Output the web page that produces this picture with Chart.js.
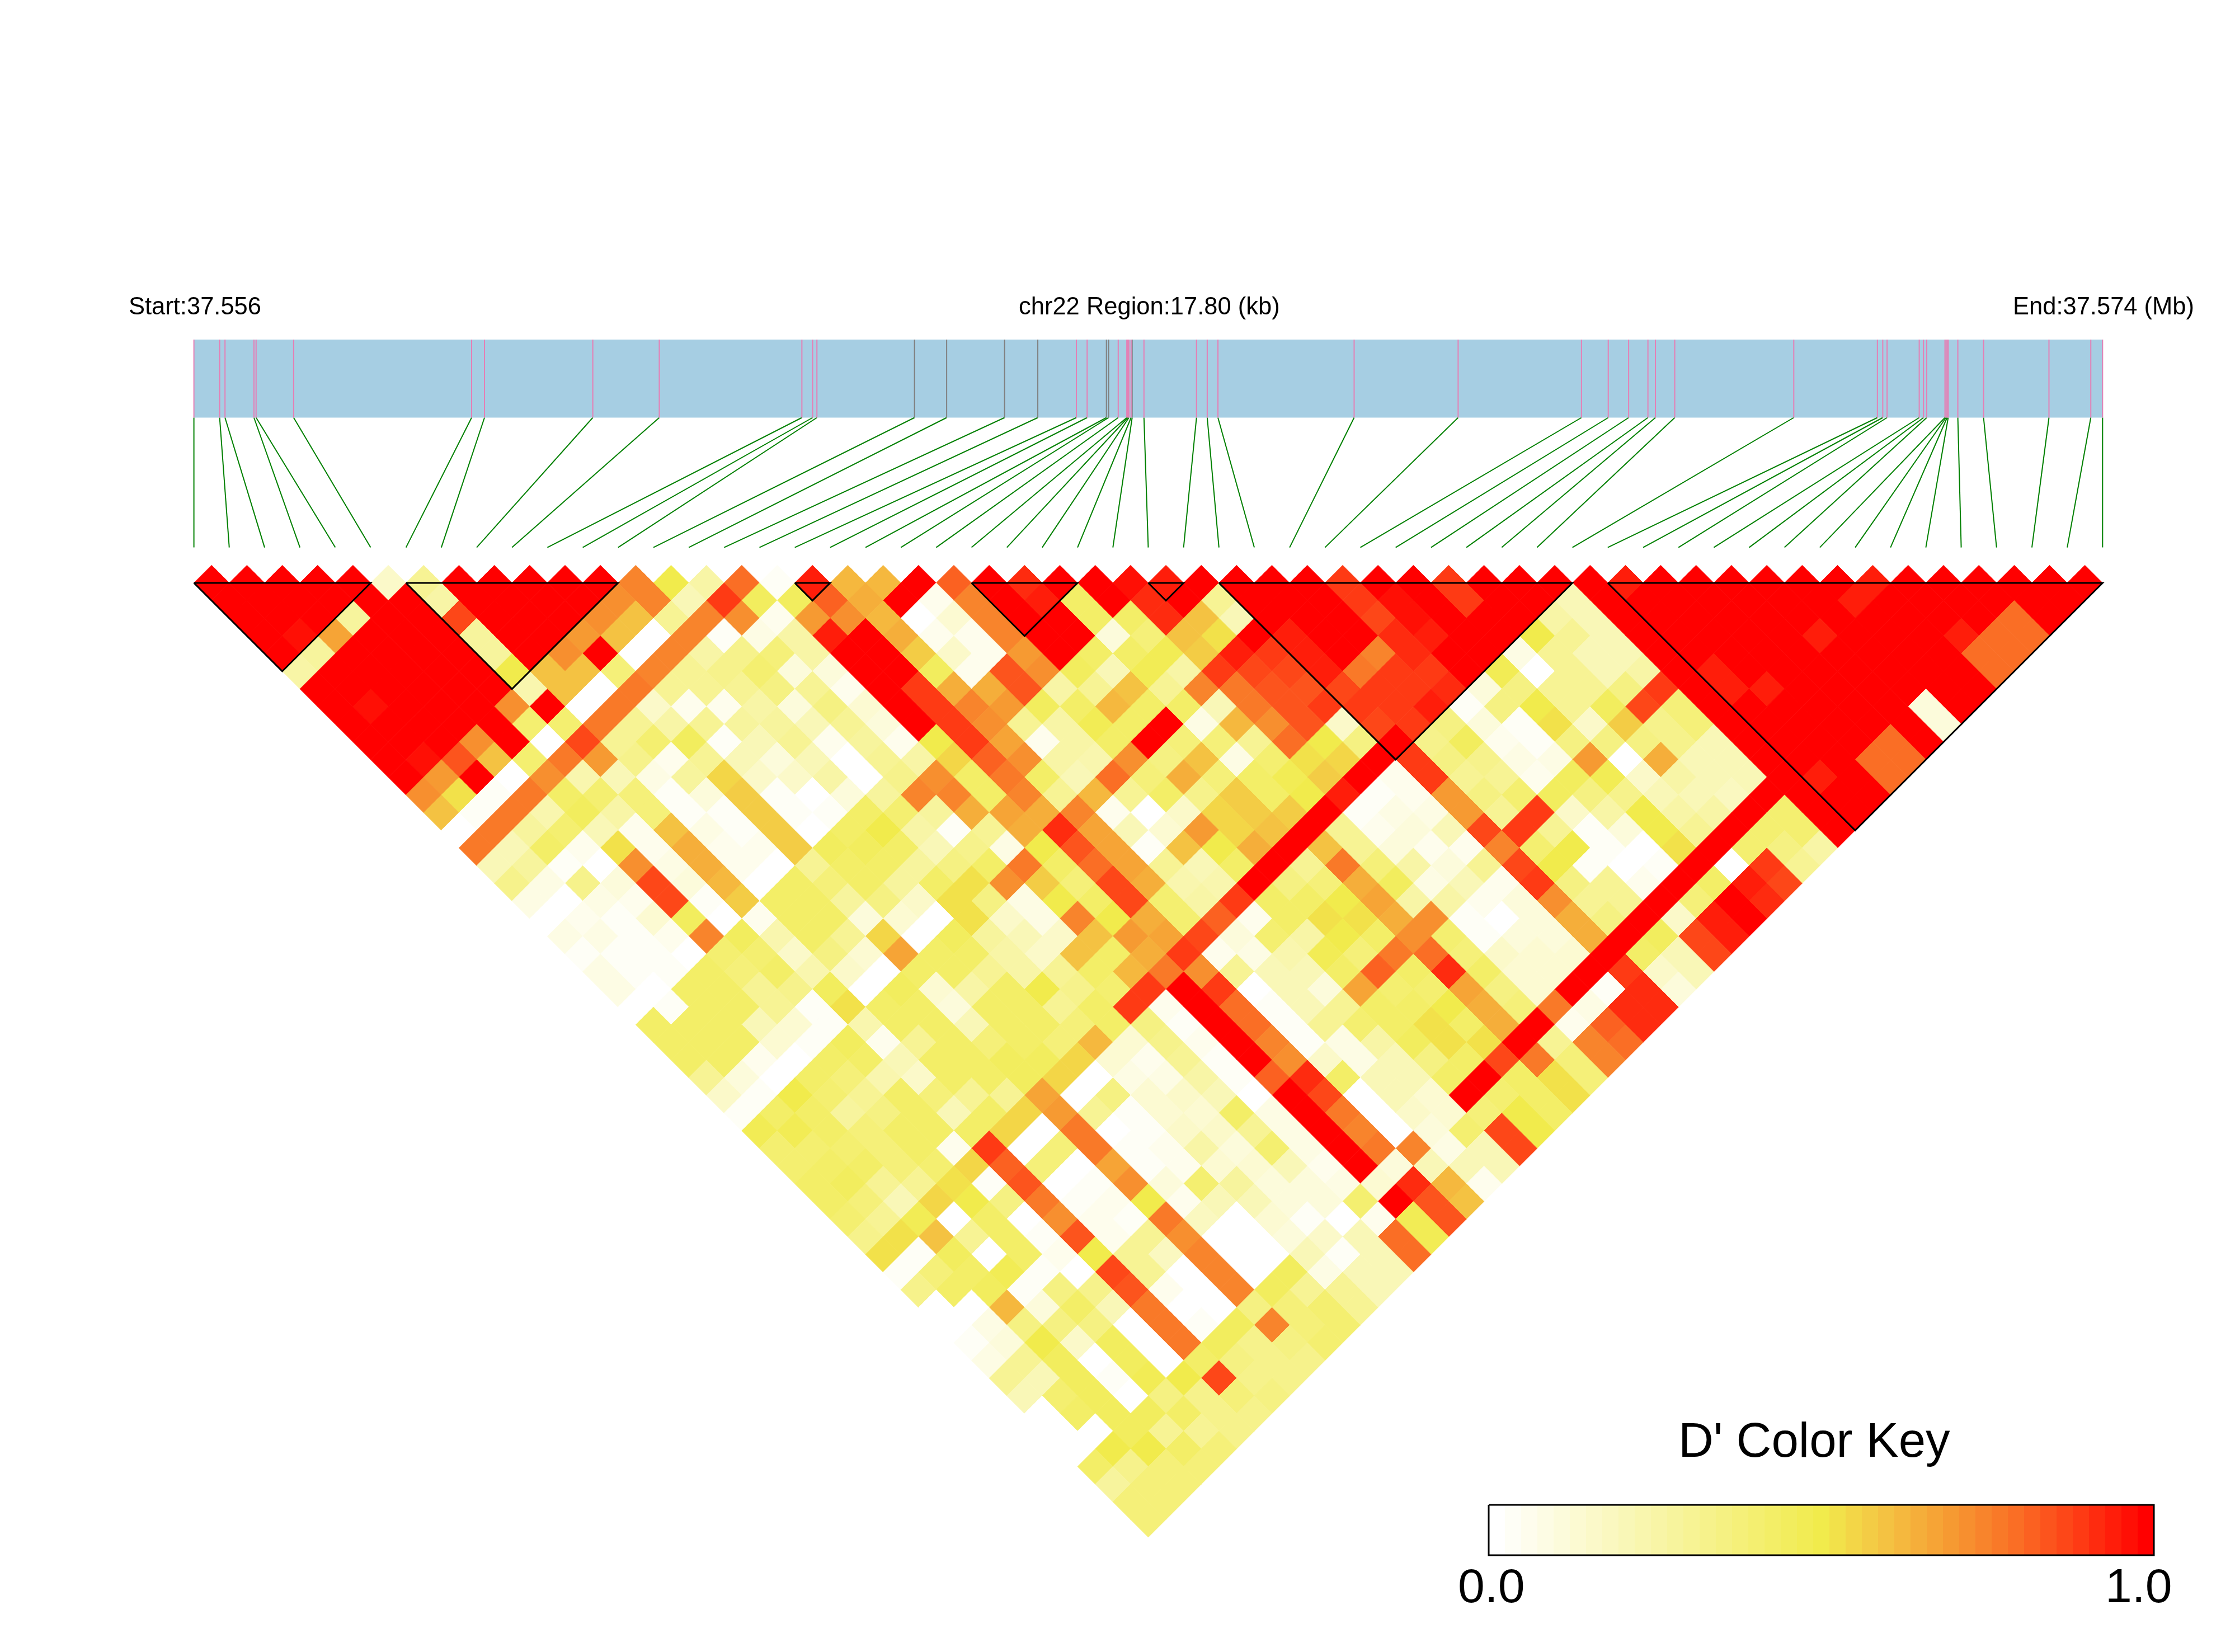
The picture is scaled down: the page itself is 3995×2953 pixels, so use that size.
<!DOCTYPE html>
<html>
<head>
<meta charset="utf-8">
<title>LD heatmap chr22</title>
<script src="https://cdn.jsdelivr.net/npm/chart.js@4"></script>
<style>
  html, body { margin: 0; padding: 0; background: #fff; }
  #wrap { position: relative; width: 3995px; height: 2953px; overflow: hidden; }
  canvas { position: absolute; left: 0; top: 0; }
  .lbl { position: absolute; font-family: "Liberation Sans", Arial, sans-serif; color: #000; white-space: nowrap; line-height: 1; }
</style>
</head>
<body>
<div id="wrap">
  <canvas id="ld" width="3995" height="2953"></canvas>
  <div class="lbl" style="left:230px;top:526px;font-size:43.5px">Start:37.556</div>
  <div class="lbl" style="left:1821px;top:526px;font-size:43.5px">chr22 Region:17.80 (kb)</div>
  <div class="lbl" style="left:3598px;top:526px;font-size:43.5px">End:37.574 (Mb)</div>
  <div class="lbl" style="left:3000px;top:2530px;font-size:87px">D' Color Key</div>
  <div class="lbl" style="left:2606px;top:2791px;font-size:86px">0.0</div>
  <div class="lbl" style="left:3763px;top:2791px;font-size:86px">1.0</div>
</div>
<script>
// SNP positions along the region, kb from the start
const snpKb = [0,.24,.29,.56,.58,.93,2.59,2.71,3.72,4.34,5.67,5.77,5.81,6.72,7.02,7.56,7.87,8.23,8.33,8.51,8.53,8.62,8.70,8.71,8.72,8.74,8.75,8.86,9.35,9.45,9.55,10.82,11.79,12.94,13.19,13.38,13.56,13.63,13.81,14.92,15.70,15.75,15.79,16.09,16.13,16.16,16.33,16.34,16.35,16.36,16.45,16.69,17.30,17.69,17.80];
const regionKb = 17.8;
const greySnps = [13,14,15,16,19,20,26];

// haplotype blocks, first and last SNP
const blockStart = [0,6,17,22,27,29,40];
const blockEnd = [5,12,18,25,28,39,54];

// D' by row: dprime[r][i] is the pair (i, i+r+1)
const dprime = [
[1,1,1,1,1,.15,.3,1,1,1,1,1,.75,.5,.25,.8,.03,.95,.62,.62,1,.82,1,.93,1,1,.98,.95,1,1,1,1,.9,1,1,.9,1,1,1,1,.95,1,1,1,1,1,1,.95,1,1,1,1,1,1],
[1,1,1,1,1,1,.25,1,1,1,1,.72,.75,.2,.9,.45,.45,.82,.65,1,.05,.75,1,.95,.42,1,.93,1,.3,1,1,1,.9,.97,1,.9,1,1,.2,1,1,1,1,1,1,1,.95,1,1,1,1,1,1],
[1,1,1,.28,1,1,.88,1,1,1,.72,.6,.3,.75,.72,.05,.7,.72,.62,0,.12,.75,1,1,.42,.42,.92,.6,.2,1,1,1,.88,.97,1,1,1,.25,.2,1,1,1,1,1,1,1,1,1,1,1,.8,1],
[1,.98,.68,1,1,1,.28,1,1,.7,.6,0,.75,.03,.08,.25,.95,1,.65,.05,.05,.75,1,1,.1,.38,.6,.52,1,.95,1,1,.92,.95,1,1,.5,.3,.2,1,1,1,1,1,.95,1,1,1,.95,.8,.8],
[1,.28,1,1,1,1,.28,1,.72,1,0,.75,.25,.32,.38,.25,1,1,.58,.15,.05,.7,1,.42,.42,.47,.57,.95,.9,.95,1,.76,.92,1,1,.08,.3,.2,.2,1,1,1,1,1,1,1,1,1,.8,.8],
[.25,1,1,1,1,1,.5,.6,.6,.37,.75,.3,.32,.4,.1,.1,1,1,.45,.05,.85,.72,.45,.2,.47,.25,.9,.88,.88,.95,.78,.9,.9,1,.47,0,.3,.2,.25,1,.95,1,1,1,1,1,1,1,.8],
[1,1,1,1,1,1,.22,.6,0,.78,.3,.3,.3,.35,.3,.05,1,.9,.65,.65,.85,.25,.3,.6,.3,.75,.78,.85,.85,.88,.9,.9,.93,.1,.35,.3,.3,.35,.9,1,.95,.95,1,1,1,1,1,1],
[1,.98,1,1,1,.72,1,0,.78,.15,.05,.05,.25,.1,.35,.12,1,.9,.75,.7,.45,.42,.62,.42,.42,.2,.78,.85,.9,.9,.9,.95,.03,.35,.5,.3,.45,.88,.38,1,1,1,1,1,1,.1,1],
[1,1,1,1,1,.4,.4,.78,.3,.25,.3,.28,.27,.2,.3,.1,1,.9,.72,.3,.25,.47,.42,1,.08,.62,.72,.85,.15,.88,.9,.35,.1,.03,.52,.15,.58,.33,.38,1,1,1,1,1,1,.1],
[1,1,1,.72,1,0,.88,.3,.4,.45,.03,.2,.3,.05,.28,.05,.5,.9,.68,.05,.25,.42,1,.38,.38,.3,.8,.5,.35,1,.33,.45,.05,.03,.35,.35,.35,.33,.2,1,1,1,1,.8,1],
[1,.98,.85,.6,.4,.78,.7,.33,.05,.3,.2,.1,.2,0,.3,.25,.55,.82,.72,.25,.22,.72,.35,.6,.08,.4,.52,.55,1,.9,.35,.33,.08,.08,.7,0,.65,.2,.2,1,1,1,.8,.8],
[1,.7,1,0,.72,.22,.2,.08,.27,.55,.15,.15,.25,0,.33,.72,.42,.78,.42,.2,.8,.38,.65,.38,.42,.48,.58,1,.05,.9,.3,.3,.05,.45,.48,.15,.25,.2,.2,1,.95,1,.8],
[.72,.53,.02,.78,.42,.4,.38,.03,.1,.58,.03,0,.1,.27,.75,.75,.42,.75,.3,.62,.3,.42,.32,.58,.42,.5,.95,.02,.05,.7,.35,.4,.45,.35,.33,.2,.2,.18,1,1,1,1],
[.6,.02,.78,.22,.45,.25,.38,.02,.03,.58,.03,.02,.42,.4,.28,.65,.68,.65,.75,.05,0,.15,.55,.58,.58,1,.03,.08,.08,.7,.3,.9,.15,.25,.5,.25,.25,1,.4,1,1],
[0,.78,.28,.4,.2,.05,.6,.08,.02,.57,0,.42,.5,.25,.02,.3,.65,.92,.68,.2,.12,.7,.55,.6,1,.3,.05,.1,.2,.88,.9,.3,.02,.1,.5,.3,1,.4,.4,1],
[.78,.2,.42,.05,.52,.05,.65,.05,.05,.57,.45,.45,.42,.2,.32,.08,.5,.85,.68,.03,.6,.5,.65,1,.6,.3,.1,.05,.05,.75,.4,.5,.02,0,.53,1,.4,.35,.25],
[.2,.28,.03,0,.72,.08,.65,.05,0,.3,.42,.42,.27,.35,.42,.78,.42,.8,.68,.3,.2,.42,1,.3,.78,.38,.25,.1,.3,.88,.5,.02,0,.03,1,0,.9,.3],
[.33,.07,.33,.1,.88,.1,.62,0,.42,.38,.42,.28,.42,.52,.72,.57,.38,.87,.65,.22,.22,1,.35,.38,.65,.45,.08,.2,.05,.9,.35,.3,.05,1,.42,.95,.88],
[.07,0,.08,.05,.88,.03,.57,.42,.42,.28,.35,.15,.52,.35,.08,.5,.42,.88,.4,.25,.9,.42,.42,.5,.68,.25,.25,.05,.1,.72,.3,.3,1,.38,1,.93],
[0,.05,.03,.12,.45,0,.05,.42,.42,.1,.12,0,.52,.15,.08,.75,.5,.65,.4,.82,.05,.42,.53,.53,.65,.72,.03,0,.1,.65,.35,1,.15,.95,1],
[.07,.08,.03,.05,.75,.45,.22,.42,.3,.55,0,.45,.27,.2,.15,.6,.7,.68,.88,.1,.4,.25,.5,.42,.72,.4,.03,.1,.1,.65,1,.45,.88,.95],
[.03,.02,.03,0,.4,.4,.15,.35,.12,.68,.42,.42,.25,.15,.6,.42,.65,.9,.05,.07,.22,.48,.38,.78,.8,.38,.15,.13,.13,1,.42,.2,.88],
[.08,.03,.03,.42,.38,.42,.22,.15,0,.42,.42,.3,.25,.3,.42,.62,.78,.72,.3,.2,.2,.42,.82,.42,.92,.42,.12,.12,1,.9,.15,.2],
[.07,0,.42,.42,.3,.32,.45,0,.45,.13,.25,.42,.5,.32,.4,.9,1,.9,0,.2,.1,.68,.4,.4,.68,.35,.12,1,.03,.93,.1],
[0,.02,.42,.42,.3,.03,.53,.42,.42,.1,.42,.42,.3,.42,.9,.05,1,.8,.03,.2,.3,.42,.42,.5,.65,.38,.78,.08,.93,.93],
[.42,.42,.42,.2,.12,.03,.22,.42,.42,.2,.42,.42,.38,.42,.35,.03,1,.8,.03,.3,.4,.42,.52,.42,.65,1,.05,.83,.93],
[.42,.42,.42,.12,.02,.45,.05,.3,.42,.38,.42,.38,.62,.12,.32,.05,1,.75,.03,.08,.25,.45,.52,.52,1,.3,.75,.8],
[.42,.42,.05,0,.42,.42,.2,.42,.42,.45,.45,.55,.12,.05,.3,.03,1,.72,.15,.08,.2,.35,.42,.88,.78,.38,.75],
[.3,.1,0,.42,.38,.22,.15,.42,.42,.45,.55,0,.07,.07,.25,.03,.82,.93,.42,.2,.2,.42,1,.42,.52,.38],
[.15,.02,.5,.4,.3,.42,.38,.3,.3,.68,0,.35,.12,.15,.2,0,1,.88,0,.2,.12,1,.4,.42,.52],
[.03,.42,.42,.28,.35,.42,.2,.42,.55,.7,.3,.03,.13,.13,.42,.07,1,.78,0,.15,.12,.38,.5,.42],
[.48,.48,.42,.38,.42,.42,.42,.55,0,.78,0,.03,.15,.15,.3,.08,1,.75,0,.1,.4,.88,.5],
[.4,.4,.4,.38,.42,.05,.9,0,.38,.78,.02,.05,.25,.1,.4,.08,1,.78,.75,.08,.2,.88],
[.4,.42,.42,.38,.4,.55,.82,.38,0,.68,.02,.05,.12,.12,.2,.05,1,.1,.2,.2,.2],
[.42,.45,.3,.3,.53,.02,.85,0,.02,.72,.1,.4,.28,.1,.1,.08,.12,.92,.62,.05],
[.42,.38,.2,.55,.5,.35,.78,.02,.05,.5,.05,.2,.2,.1,.1,.4,1,.85,.6],
[.4,.3,.48,0,.42,0,.72,.05,.03,.78,.18,0,.12,.03,0,.05,.47,.85],
[.33,.53,.6,.3,.42,.02,.85,.05,.3,.72,0,0,.1,.15,.2,.8,.47],
[.53,.02,.45,0,.42,.05,.5,.3,.18,.75,0,0,.2,.03,.2,.8],
[.02,.38,.42,.48,.03,0,.88,.3,0,.75,0,.45,.07,.2,.2],
[.33,.42,.45,.02,.35,.33,.85,.05,0,.75,.45,.3,.3,.2],
[0,0,.62,.1,.42,.2,.78,0,0,.35,.38,.4,.3],
[0,.08,.35,.35,.35,0,.78,.03,.45,.75,.38,.4],
[.03,.1,.5,.15,.45,0,.78,.45,.32,.35,.4],
[.07,.3,.45,0,.45,0,.42,.35,.32,.32],
[.3,.2,.45,.03,.47,.5,.88,.33,.33],
[.2,.4,.45,0,.35,.33,.38,.35],
[0,.42,.45,.45,.42,.33,.33],
[0,0,.45,.3,.3,.33],
[0,.5,.5,.42,.38],
[.42,.33,.38,.38],
[.27,.38,.38],
[.38,.38],
[.38]
];

// colour key levels
const keyLevels = 41;
const colourStops = [[0,255,255,255],[.5,241,235,76],[.6,244,194,66],[.7,246,154,50],[.8,250,110,37],[.9,254,58,20],[1,255,0,0]];

// layout in pixels of the 3995x2953 page
const cellPx = 63.18, leftPx = 346.6, topPx = 1042;
const barTopPx = 607, barBottomPx = 746.5, stemBottomPx = 978.6;
const keyLeftPx = 2661, keyRightPx = 3850, keyTopPx = 2690, keyBottomPx = 2780;

function colourOf(v) {
  const q = Math.round(v * (keyLevels - 1)) / (keyLevels - 1);
  for (let s = 1; s < colourStops.length; s++) {
    const a = colourStops[s - 1], b = colourStops[s];
    if (q <= b[0]) {
      const t = (q - a[0]) / (b[0] - a[0]);
      return 'rgb(' + [1, 2, 3].map(c => Math.round(a[c] + (b[c] - a[c]) * t)).join(',') + ')';
    }
  }
  return 'rgb(255,0,0)';
}

// scale helpers, page pixels to SNP index / row units
const xUnit = px => (px - leftPx) / cellPx;
const yUnit = px => (px - topPx) / (cellPx / 2);
const kbToIndex = kb => kb / regionKb * (snpKb.length - 1);

function lineSet(data, colour, width) {
  return { data, showLine: true, borderColor: colour, borderWidth: width, pointRadius: 0, tension: 0, borderCapStyle: 'butt', clip: false };
}

const datasets = [];

// block outlines go first so they end up on top
blockStart.forEach((a, n) => {
  const b = blockEnd[n];
  datasets.push(lineSet([{x: a, y: 0}, {x: b, y: 0}, {x: (a + b) / 2, y: b - a}, {x: a, y: 0}], '#000', 3));
});

// cells, with a hairline of their own colour so no seams show between them
const cells = [], cellColours = [];
dprime.forEach((row, r) => {
  row.forEach((v, i) => {
    const j = i + r + 1;
    cells.push({x: (i + j) / 2, y: r});
    cellColours.push(colourOf(v));
  });
});
datasets.push({
  data: cells, showLine: false, pointStyle: 'rectRot', pointRadius: cellPx / 2, pointHoverRadius: cellPx / 2,
  pointBackgroundColor: cellColours, pointBorderColor: cellColours, pointBorderWidth: 1, clip: false
});

// SNP ticks and the stems joining them to the heatmap
snpKb.forEach((kb, n) => {
  const gx = kbToIndex(kb);
  const tick = greySnps.includes(n) ? '#808080' : '#E57FB5';
  datasets.push(lineSet([{x: gx, y: yUnit(barTopPx)}, {x: gx, y: yUnit(barBottomPx)}], tick, 2));
  datasets.push(lineSet([{x: gx, y: yUnit(barBottomPx)}, {x: n, y: yUnit(stemBottomPx)}], '#008000', 2));
});

// region bar
datasets.push(lineSet(
  [{x: 0, y: yUnit((barTopPx + barBottomPx) / 2)}, {x: snpKb.length - 1, y: yUnit((barTopPx + barBottomPx) / 2)}],
  '#A6CEE3', barBottomPx - barTopPx));

// colour key: outline, then one segment per level
const keyTop = yUnit(keyTopPx), keyBottom = yUnit(keyBottomPx);
const keyL = xUnit(keyLeftPx), keyR = xUnit(keyRightPx);
datasets.push(lineSet([{x: keyL, y: keyTop}, {x: keyR, y: keyTop}, {x: keyR, y: keyBottom}, {x: keyL, y: keyBottom}, {x: keyL, y: keyTop}], '#000', 3));
for (let k = 0; k < keyLevels; k++) {
  const x0 = keyL + (keyR - keyL) * k / keyLevels;
  const x1 = keyL + (keyR - keyL) * (k + 1) / keyLevels;
  const yMid = (keyTop + keyBottom) / 2;
  datasets.push(lineSet([{x: x0, y: yMid}, {x: x1, y: yMid}], colourOf(k / (keyLevels - 1)), keyBottomPx - keyTopPx));
}

new Chart(document.getElementById('ld').getContext('2d'), {
  type: 'scatter',
  data: { datasets },
  options: {
    responsive: false,
    animation: false,
    events: [],
    layout: { padding: 0, autoPadding: false },
    plugins: { legend: { display: false }, tooltip: { enabled: false }, title: { display: false } },
    scales: {
      x: { type: 'linear', display: false, min: xUnit(0), max: xUnit(3995) },
      y: { type: 'linear', display: false, reverse: true, min: yUnit(0), max: yUnit(2953) }
    }
  }
});
</script>
</body>
</html>
